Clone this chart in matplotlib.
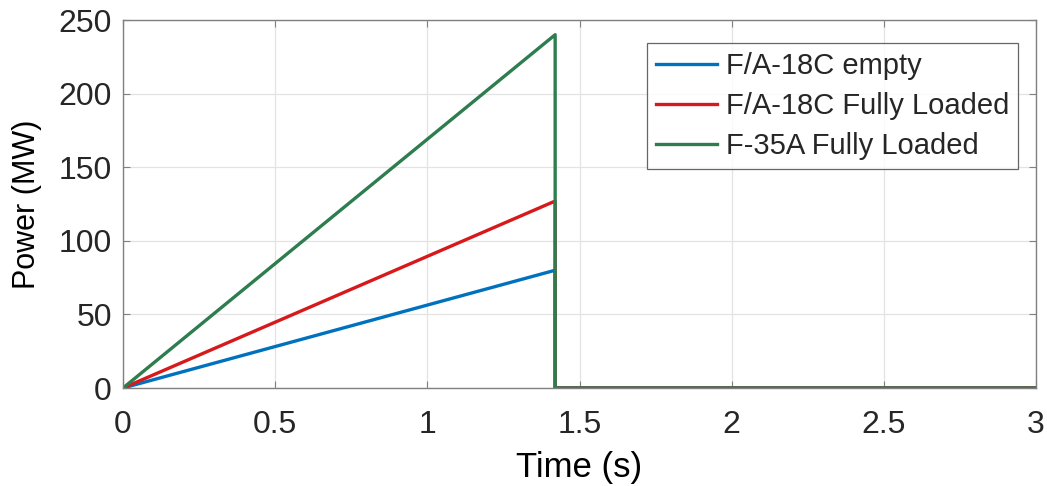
import matplotlib
matplotlib.use("Agg")
import matplotlib.pyplot as plt

# power pulse profiles: linear ramp, cut-off at t_end, then zero
t = [0, 1.42, 1.42, 3.0]
fa18_empty = [0, 80, 0, 0]
fa18_loaded = [0, 127, 0, 0]
f35_loaded = [0, 240, 0, 0]

labels = ["F/A-18C empty", "F/A-18C Fully Loaded", "F-35A Fully Loaded"]
colors = ["#0072BD", "#D7191C", "#2E7D4F"]

xticks = [0, 0.5, 1, 1.5, 2, 2.5, 3]
xticklabels = ["0", "0.5", "1", "1.5", "2", "2.5", "3"]
yticks = [0, 50, 100, 150, 200, 250]

plt.rcParams.update({
    "font.family": ["Liberation Sans", "DejaVu Sans"],
    "text.color": "#262626",
    "xtick.color": "#808080", "ytick.color": "#808080",
    "xtick.labelcolor": "#262626", "ytick.labelcolor": "#262626",
})

fig = plt.figure(figsize=(10.47, 4.86), dpi=100)
ax = fig.add_axes([123 / 1047, 1 - 388 / 486, (1036 - 123) / 1047, (388 - 20) / 486])

for y, lab, c in zip([fa18_empty, fa18_loaded, f35_loaded], labels, colors):
    ax.plot(t, y, color=c, lw=2.4, label=lab)

ax.set_xlim(0, 3)
ax.set_ylim(0, 250)
ax.set_xticks(xticks)
ax.set_xticklabels(xticklabels)
ax.set_yticks(yticks)
ax.tick_params(direction="in", top=True, right=True, labelsize=23, length=5)
ax.tick_params(axis="x", pad=16)
ax.tick_params(axis="y", pad=8)
ax.grid(color="#e3e3e3", lw=0.9)
ax.set_axisbelow(True)
for s in ax.spines.values():
    s.set_color("#808080")
    s.set_linewidth(1.0)

ax.set_xlabel("Time (s)", fontsize=25, labelpad=8)
ax.set_ylabel("Power (MW)", fontsize=22, labelpad=12)

leg = ax.legend(loc="upper right", fontsize=21, frameon=True, fancybox=False,
                edgecolor="#404040", handlelength=2.1, handletextpad=0.3,
                borderpad=0.3, borderaxespad=0, labelspacing=0.42,
                bbox_to_anchor=(0.980, 0.9375))
leg.get_frame().set_linewidth(0.9)

fig.savefig("out.png", dpi=100)
